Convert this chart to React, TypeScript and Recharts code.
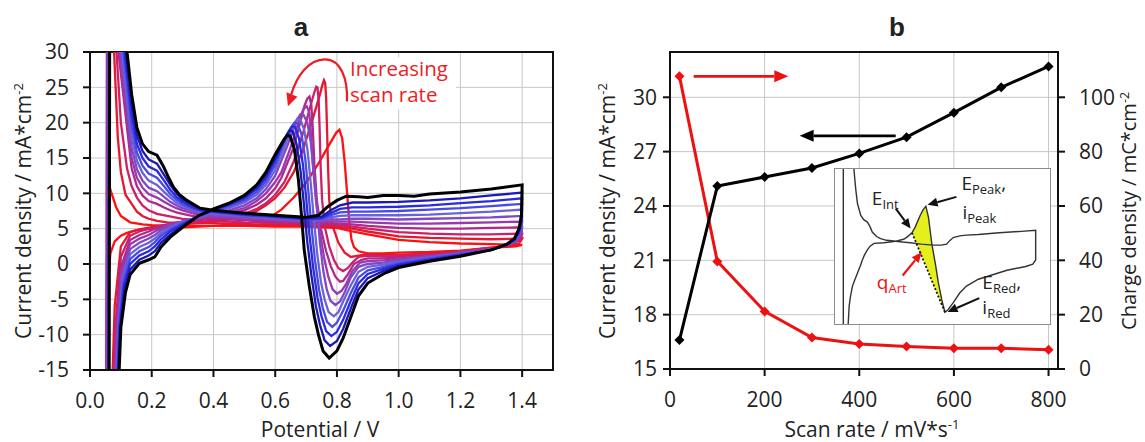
import React from 'react';
import {
  LineChart,
  ComposedChart,
  Line,
  Area,
  XAxis,
  YAxis,
  CartesianGrid,
  ReferenceArea,
  ReferenceLine,
  ReferenceDot,
} from 'recharts';

type Pt = [number, number];

// ---- panel a: voltammograms, slowest scan (red) -> fastest scan (black) ----
const cv01: Pt[] = [
  [0.053, -20], [0.056, 5], [0.058, 11.6], [0.07, 10.0], [0.085, 8.0], [0.1, 6.8], [0.13, 5.9], [0.17, 5.6],
  [0.2, 5.5], [0.3, 5.4], [0.4, 5.4], [0.5, 5.4], [0.6, 5.3], [0.7, 5.3], [0.75, 5.2], [0.8, 5.1], [0.85, 4.6],
  [0.9, 4.2], [1.0, 3.4], [1.1, 3.1], [1.2, 2.9], [1.3, 2.8], [1.4, 2.7],
  [1.38, 2.5], [1.3, 2.3], [1.2, 1.9], [1.1, 1.7], [1.0, 1.6], [0.95, 1.5], [0.9, 1.5], [0.87, 1.8], [0.855, 2.4],
  [0.847, 3.5], [0.84, 6.0], [0.833, 10.0], [0.825, 14.5], [0.817, 17.8], [0.808, 19.0], [0.798, 18.6], [0.77, 16.5],
  [0.74, 14.2], [0.7, 11.5], [0.66, 9.4], [0.62, 7.7], [0.58, 6.5], [0.54, 6.0], [0.5, 5.7], [0.4, 5.4], [0.3, 5.2],
  [0.2, 5.0], [0.15, 4.8], [0.12, 4.4], [0.1, 4.0], [0.08, 3.2], [0.066, 1.5], [0.058, -3.0], [0.055, -20],
];
const cv02: Pt[] = [
  [0.053, -20], [0.055, 40], [0.072, 40], [0.078, 30], [0.09, 18], [0.1, 13], [0.115, 9.8], [0.135, 8.5],
  [0.152, 7.4], [0.17, 6.8], [0.19, 6.4], [0.217, 6.1], [0.25, 5.9], [0.3, 5.8], [0.4, 5.8], [0.5, 5.6], [0.6, 5.5],
  [0.7, 5.5], [0.75, 5.4], [0.8, 5.3], [0.85, 5.0], [0.9, 4.6], [1.0, 3.9], [1.1, 3.7], [1.2, 3.6], [1.3, 3.5], [1.4, 3.6],
  [1.39, 2.9], [1.36, 2.6], [1.3, 2.3], [1.2, 1.8], [1.1, 1.5], [1.0, 1.3], [0.95, 1.3], [0.9, 1.4], [0.87, 1.2],
  [0.845, 1.0], [0.825, 1.6], [0.805, 3.0], [0.785, 5.5], [0.775, 9.0], [0.771, 14.0], [0.768, 19.0], [0.765, 23.5],
  [0.762, 25.6], [0.758, 26.0], [0.752, 25.2], [0.745, 24.0], [0.72, 20.3], [0.69, 16.2], [0.66, 13.0], [0.63, 10.8],
  [0.6, 9.3], [0.57, 8.3], [0.54, 7.5], [0.5, 6.8], [0.45, 6.3], [0.4, 6.0], [0.35, 5.8], [0.3, 5.6], [0.25, 5.4],
  [0.2, 5.2], [0.16, 4.9], [0.13, 4.5], [0.1, 2.5], [0.08, -6.0], [0.07, -20],
];
const cv03: Pt[] = [
  [0.054, -20], [0.056, 40], [0.08, 40], [0.086, 30], [0.1, 20], [0.12, 13.5], [0.135, 11.0], [0.152, 9.4],
  [0.17, 8.3], [0.19, 7.6], [0.217, 7.1], [0.25, 6.8], [0.3, 6.4], [0.36, 6.2], [0.4, 6.1], [0.5, 5.9], [0.6, 5.8],
  [0.7, 5.7], [0.75, 5.6], [0.8, 5.5], [0.85, 5.3], [0.9, 5.0], [1.0, 4.5], [1.1, 4.3], [1.2, 4.2], [1.3, 4.2], [1.4, 4.3],
  [1.395, 3.4], [1.37, 2.9], [1.35, 2.7], [1.3, 2.2], [1.2, 1.7], [1.1, 1.3], [1.0, 1.1], [0.95, 1.1], [0.9, 1.2],
  [0.87, 1.0], [0.85, 0.2], [0.835, -0.6], [0.82, -1.0], [0.805, -0.6], [0.79, 0.6], [0.775, 2.5], [0.762, 5.0],
  [0.752, 9.0], [0.747, 14.0], [0.744, 19.0], [0.741, 23.0], [0.737, 25.0], [0.733, 25.1], [0.726, 24.2], [0.715, 22.5],
  [0.69, 18.5], [0.66, 14.5], [0.63, 11.6], [0.6, 9.8], [0.57, 8.6], [0.54, 7.8], [0.5, 7.1], [0.45, 6.6], [0.4, 6.3],
  [0.35, 6.0], [0.3, 5.8], [0.26, 5.6], [0.23, 5.4], [0.2, 5.1], [0.16, 4.6], [0.13, 4.0], [0.1, 1.0], [0.084, -8.0],
  [0.074, -20],
];
const cv04: Pt[] = [
  [0.055, -20], [0.057, 40], [0.086, 40], [0.092, 30], [0.135, 13.5], [0.152, 11.0], [0.17, 9.7], [0.19, 8.9],
  [0.217, 8.5], [0.24, 8.0], [0.26, 7.6], [0.28, 7.3], [0.3, 7.1], [0.33, 6.8], [0.36, 6.6], [0.4, 6.4], [0.5, 6.2],
  [0.6, 6.0], [0.7, 5.9], [0.75, 5.8], [0.8, 5.7], [0.85, 5.6], [0.9, 5.4], [1.0, 5.1], [1.1, 5.0], [1.2, 5.0],
  [1.3, 5.1], [1.4, 5.2],
  [1.396, 3.9], [1.38, 3.2], [1.36, 2.8], [1.3, 2.1], [1.2, 1.6], [1.1, 1.2], [1.0, 0.9], [0.95, 0.8], [0.9, 0.8],
  [0.88, 0.6], [0.855, 0.0], [0.835, -1.5], [0.82, -2.4], [0.81, -2.5], [0.795, -1.8], [0.78, -0.3], [0.765, 1.8],
  [0.748, 5.0], [0.735, 9.0], [0.727, 14.0], [0.722, 19.0], [0.717, 22.5], [0.711, 23.7], [0.704, 23.4], [0.695, 22.4],
  [0.66, 16.5], [0.62, 12.2], [0.6, 10.7], [0.57, 9.3], [0.54, 8.4], [0.5, 7.6], [0.45, 7.0], [0.4, 6.6], [0.35, 6.3],
  [0.3, 6.0], [0.26, 5.7], [0.23, 5.4], [0.21, 5.0], [0.19, 4.6], [0.16, 4.1], [0.13, 3.4], [0.1, -0.5], [0.086, -9.0],
  [0.076, -20],
];
const cv05: Pt[] = [
  [0.056, -20], [0.058, 40], [0.09, 40], [0.096, 30], [0.135, 15.0], [0.152, 12.2], [0.17, 10.8], [0.19, 9.9],
  [0.217, 9.4], [0.24, 8.8], [0.26, 8.3], [0.28, 7.9], [0.3, 7.6], [0.33, 7.2], [0.36, 6.9], [0.4, 6.7], [0.5, 6.4],
  [0.6, 6.2], [0.7, 6.0], [0.75, 6.0], [0.8, 6.0], [0.85, 6.0], [0.9, 5.9], [1.0, 5.7], [1.1, 5.7], [1.2, 5.8],
  [1.3, 5.9], [1.4, 6.0],
  [1.397, 4.4], [1.385, 3.5], [1.37, 3.0], [1.35, 2.7], [1.3, 2.1], [1.2, 1.6], [1.1, 1.1], [1.0, 0.7], [0.95, 0.5],
  [0.9, 0.4], [0.875, 0.2], [0.85, -1.0], [0.83, -2.8], [0.815, -3.8], [0.8, -4.2], [0.786, -3.6], [0.772, -1.8],
  [0.758, 1.0], [0.745, 4.5], [0.732, 9.0], [0.722, 14.0], [0.716, 18.5], [0.71, 21.5], [0.702, 22.3], [0.693, 22.0],
  [0.682, 21.0], [0.65, 16.5], [0.62, 13.0], [0.6, 11.6], [0.57, 10.0], [0.54, 8.9], [0.5, 7.9], [0.45, 7.3],
  [0.4, 6.9], [0.35, 6.4], [0.3, 6.0], [0.26, 5.6], [0.23, 5.1], [0.21, 4.6], [0.19, 4.1], [0.16, 3.6], [0.13, 2.8],
  [0.102, -1.0], [0.088, -9.0], [0.078, -20],
];
const cv06: Pt[] = [
  [0.057, -20], [0.059, 40], [0.094, 40], [0.1, 30], [0.135, 16.5], [0.152, 13.4], [0.17, 11.8], [0.19, 10.8],
  [0.217, 10.3], [0.24, 9.5], [0.26, 8.8], [0.28, 8.3], [0.3, 7.9], [0.33, 7.5], [0.36, 7.1], [0.4, 6.9], [0.5, 6.6],
  [0.6, 6.3], [0.7, 6.1], [0.75, 6.1], [0.78, 6.3], [0.81, 6.3], [0.85, 6.4], [0.9, 6.4], [1.0, 6.3], [1.1, 6.4],
  [1.2, 6.5], [1.3, 6.6], [1.4, 6.8],
  [1.398, 4.8], [1.39, 3.9], [1.375, 3.1], [1.35, 2.7], [1.3, 2.1], [1.2, 1.5], [1.1, 1.0], [1.0, 0.5], [0.95, 0.2],
  [0.9, 0.0], [0.87, -0.4], [0.845, -1.9], [0.825, -4.0], [0.81, -5.3], [0.795, -5.8], [0.779, -5.2], [0.767, -3.6],
  [0.756, -1.0], [0.745, 3.0], [0.735, 8.0], [0.725, 13.0], [0.715, 17.3], [0.704, 20.0], [0.692, 21.1], [0.682, 21.2],
  [0.67, 20.4], [0.64, 16.8], [0.6, 12.5], [0.57, 10.6], [0.54, 9.3], [0.5, 8.3], [0.45, 7.6], [0.4, 7.1], [0.35, 6.5],
  [0.3, 6.0], [0.26, 5.4], [0.23, 4.8], [0.21, 4.1], [0.19, 3.6], [0.16, 3.0], [0.13, 2.1], [0.104, -1.5], [0.09, -9.0],
  [0.08, -20],
];
const cv07: Pt[] = [
  [0.058, -20], [0.06, 40], [0.098, 40], [0.104, 30], [0.135, 18], [0.152, 14.6], [0.17, 12.9], [0.19, 11.8],
  [0.217, 11.2], [0.24, 10.2], [0.26, 9.4], [0.28, 8.7], [0.3, 8.2], [0.33, 7.7], [0.36, 7.3], [0.4, 7.1], [0.5, 6.8],
  [0.6, 6.5], [0.7, 6.2], [0.75, 6.3], [0.78, 6.6], [0.81, 6.8], [0.85, 6.9], [0.9, 6.9], [1.0, 6.9], [1.1, 7.0],
  [1.2, 7.2], [1.3, 7.4], [1.4, 7.7],
  [1.398, 5.2], [1.39, 4.1], [1.375, 3.2], [1.35, 2.7], [1.3, 2.0], [1.2, 1.4], [1.1, 0.9], [1.0, 0.3], [0.95, -0.1],
  [0.9, -0.4], [0.87, -1.1], [0.845, -3.0], [0.82, -5.3], [0.805, -6.8], [0.79, -7.4], [0.773, -6.8], [0.76, -5.0],
  [0.748, -2.5], [0.736, 1.5], [0.725, 6.5], [0.715, 11.5], [0.705, 16.0], [0.694, 19.0], [0.682, 20.4], [0.672, 20.5],
  [0.66, 19.8], [0.63, 16.6], [0.6, 13.3], [0.57, 11.2], [0.54, 9.8], [0.5, 8.7], [0.45, 7.9], [0.4, 7.3], [0.35, 6.6],
  [0.3, 5.9], [0.26, 5.2], [0.23, 4.4], [0.21, 3.6], [0.19, 3.0], [0.16, 2.4], [0.13, 1.4], [0.106, -2.0], [0.092, -9.0],
  [0.082, -20],
];
const cv08: Pt[] = [
  [0.059, -20], [0.061, 40], [0.102, 40], [0.108, 30], [0.135, 19.5], [0.152, 15.8], [0.17, 13.9], [0.19, 12.8],
  [0.217, 12.2], [0.24, 11.0], [0.26, 9.9], [0.28, 9.1], [0.3, 8.5], [0.33, 7.9], [0.36, 7.5], [0.4, 7.3], [0.5, 6.9],
  [0.6, 6.6], [0.7, 6.3], [0.75, 6.4], [0.78, 6.9], [0.81, 7.3], [0.85, 7.4], [0.9, 7.4], [1.0, 7.5], [1.1, 7.7],
  [1.2, 7.9], [1.3, 8.2], [1.4, 8.5],
  [1.398, 5.6], [1.39, 4.3], [1.375, 3.3], [1.35, 2.7], [1.3, 2.0], [1.2, 1.4], [1.1, 0.8], [1.0, 0.1], [0.95, -0.4],
  [0.9, -0.9], [0.87, -1.9], [0.845, -4.1], [0.82, -6.6], [0.8, -8.3], [0.785, -8.9], [0.768, -8.2], [0.754, -6.2],
  [0.742, -3.6], [0.729, 0.5], [0.717, 5.5], [0.707, 10.5], [0.697, 15.0], [0.685, 18.4], [0.672, 19.9], [0.663, 20.0],
  [0.651, 19.3], [0.625, 16.8], [0.6, 14.0], [0.57, 11.7], [0.54, 10.2], [0.5, 9.0], [0.45, 8.2], [0.4, 7.5], [0.35, 6.7],
  [0.3, 5.8], [0.26, 4.9], [0.23, 4.0], [0.21, 3.1], [0.19, 2.4], [0.16, 1.8], [0.13, 0.7], [0.108, -2.5], [0.094, -9.0],
  [0.084, -20],
];
const cv09: Pt[] = [
  [0.06, -20], [0.062, 40], [0.106, 40], [0.112, 30], [0.135, 21], [0.152, 17.0], [0.17, 15.0], [0.19, 13.8],
  [0.217, 13.2], [0.24, 11.8], [0.26, 10.5], [0.28, 9.5], [0.3, 8.8], [0.33, 8.1], [0.36, 7.6], [0.4, 7.4], [0.5, 7.0],
  [0.6, 6.7], [0.7, 6.4], [0.75, 6.5], [0.78, 7.2], [0.81, 7.8], [0.85, 8.0], [0.9, 8.0], [1.0, 8.1], [1.1, 8.3],
  [1.2, 8.6], [1.3, 8.9], [1.4, 9.3],
  [1.398, 6.0], [1.39, 4.5], [1.375, 3.4], [1.35, 2.7], [1.3, 2.0], [1.2, 1.3], [1.1, 0.6], [1.0, -0.1], [0.95, -0.7],
  [0.9, -1.4], [0.87, -2.7], [0.845, -5.2], [0.82, -7.9], [0.8, -9.6], [0.782, -10.2], [0.765, -9.5], [0.75, -7.4],
  [0.737, -4.8], [0.723, -0.5], [0.71, 4.5], [0.7, 9.5], [0.69, 14.0], [0.677, 17.8], [0.664, 19.4], [0.656, 19.5],
  [0.644, 18.8], [0.62, 16.7], [0.6, 14.6], [0.57, 12.2], [0.54, 10.6], [0.5, 9.3], [0.45, 8.4], [0.4, 7.6], [0.35, 6.8],
  [0.3, 5.6], [0.26, 4.6], [0.23, 3.5], [0.21, 2.5], [0.19, 1.8], [0.16, 1.2], [0.13, 0.0], [0.11, -3.0], [0.096, -9.0],
  [0.086, -20],
];
const cv10: Pt[] = [
  [0.061, -20], [0.063, 40], [0.11, 40], [0.116, 30], [0.135, 22.5], [0.152, 18.2], [0.17, 16], [0.19, 14.8],
  [0.217, 14.2], [0.24, 12.6], [0.26, 11.2], [0.28, 10.0], [0.3, 9.1], [0.33, 8.4], [0.36, 7.8], [0.4, 7.5], [0.5, 7.1],
  [0.6, 6.8], [0.7, 6.5], [0.75, 6.7], [0.78, 7.6], [0.81, 8.3], [0.85, 8.7], [0.9, 8.7], [1.0, 8.8], [1.1, 9.0],
  [1.2, 9.3], [1.3, 9.7], [1.4, 10.1],
  [1.398, 6.5], [1.39, 4.8], [1.375, 3.5], [1.35, 2.7], [1.3, 2.0], [1.2, 1.2], [1.1, 0.5], [1.0, -0.3], [0.95, -1.0],
  [0.9, -2.0], [0.87, -3.6], [0.845, -6.3], [0.82, -9.2], [0.8, -10.9], [0.778, -11.6], [0.76, -10.8], [0.745, -8.6],
  [0.732, -6.0], [0.717, -1.5], [0.703, 3.5], [0.693, 8.5], [0.682, 13.2], [0.669, 17.0], [0.656, 18.8], [0.648, 18.9],
  [0.636, 18.2], [0.6, 15.0], [0.57, 12.6], [0.54, 10.9], [0.5, 9.5], [0.45, 8.5], [0.4, 7.7], [0.35, 6.8], [0.3, 5.4],
  [0.26, 4.2], [0.23, 3.0], [0.21, 1.8], [0.19, 1.2], [0.16, 0.6], [0.13, -0.8], [0.112, -3.5], [0.098, -9.0],
  [0.088, -20],
];
const cv11: Pt[] = [
  [0.062, -20], [0.064, 40], [0.115, 40], [0.12, 30], [0.135, 24], [0.152, 19.3], [0.17, 17], [0.19, 15.9],
  [0.217, 15.4], [0.238, 13.8], [0.255, 12.2], [0.27, 10.9], [0.29, 9.8], [0.314, 9.0], [0.357, 7.9], [0.4, 7.6],
  [0.5, 7.2], [0.6, 6.9], [0.7, 6.6], [0.74, 6.9], [0.77, 8.1], [0.8, 9.0], [0.83, 9.6], [0.87, 9.5], [0.9, 9.4],
  [0.95, 9.7], [1.0, 9.7], [1.05, 9.6], [1.1, 9.9], [1.2, 10.2], [1.3, 10.6], [1.4, 11.2],
  [1.398, 7.0], [1.39, 5.0], [1.375, 3.6], [1.35, 2.8], [1.3, 2.0], [1.2, 1.1], [1.1, 0.4], [1.0, -0.5], [0.95, -1.4],
  [0.9, -2.7], [0.87, -4.5], [0.845, -7.5], [0.82, -10.5], [0.8, -12.3], [0.775, -13.3], [0.755, -12.3], [0.74, -10.0],
  [0.727, -7.5], [0.71, -3.0], [0.694, 2.0], [0.685, 7.0], [0.675, 12.0], [0.662, 16.3], [0.648, 18.1], [0.64, 18.2],
  [0.628, 17.6], [0.6, 15.5], [0.57, 13.0], [0.54, 11.2], [0.5, 9.7], [0.45, 8.6], [0.4, 7.8], [0.35, 6.8], [0.3, 5.2],
  [0.26, 3.8], [0.23, 2.4], [0.21, 1.0], [0.19, 0.6], [0.16, 0.1], [0.13, -1.5], [0.115, -4.0], [0.1, -9.0], [0.09, -20],
];

const cvCurves = [cv01, cv02, cv03, cv04, cv05, cv06, cv07, cv08, cv09, cv10, cv11];
const cvColors = [
  '#ff1010', '#e4182e', '#cc2068', '#b0288c', '#9a38b0', '#8048c4',
  '#6a62d8', '#4a4ae2', '#2a2ae0', '#1a1ab8', '#000000',
];
const potentialTicks = [0, 0.2, 0.4, 0.6, 0.8, 1.0, 1.2, 1.4];
const currentTicks = [-15, -10, -5, 0, 5, 10, 15, 20, 25, 30];

// ---- panel b ----
const scanRates = [20, 100, 200, 300, 400, 500, 600, 700, 800];
const peakCurrent = [16.6, 25.1, 25.6, 26.1, 26.9, 27.8, 29.15, 30.55, 31.7];
const artCharge = [107.7, 39.6, 21.2, 11.6, 9.2, 8.3, 7.6, 7.6, 7.1];
const scanTicks = [0, 200, 400, 600, 800];
const peakTicks = [15, 18, 21, 24, 27, 30];
const chargeTicks = [0, 20, 40, 60, 80, 100];

// ---- inset sketch ----
const insetCv: Pt[] = [
  [0.058, -20], [0.058, 40], [0.13, 40], [0.133, 29.4], [0.145, 24], [0.157, 19.9], [0.18, 16.5], [0.2, 15.3],
  [0.226, 14.6], [0.245, 13.2], [0.26, 11.7], [0.29, 10.4], [0.318, 9.8], [0.36, 9.3], [0.41, 9.1], [0.47, 8.8],
  [0.525, 8.6], [0.6, 8.2], [0.686, 7.9], [0.74, 7.9], [0.779, 8.2], [0.8, 9.2], [0.825, 10.1], [0.87, 10.6],
  [0.917, 10.8], [1.0, 11.0], [1.147, 11.5], [1.3, 11.9], [1.4, 12.2],
  [1.4, 3.6], [1.38, 2.4], [1.33, 1.7], [1.2, 0.6], [1.1, -0.7], [1.0, -2.0], [0.917, -4.0], [0.87, -6.0],
  [0.825, -8.8], [0.79, -10.8], [0.767, -11.6], [0.745, -8.0], [0.721, -3.0], [0.7, 2.5], [0.675, 8.4], [0.652, 16.0],
  [0.634, 19.2], [0.615, 18.2], [0.594, 16.5], [0.56, 13.2], [0.537, 11.5], [0.505, 10.3], [0.479, 9.6], [0.41, 8.9],
  [0.34, 8.6], [0.272, 8.4], [0.245, 7.6], [0.226, 6.5], [0.205, 5.0], [0.191, 3.6], [0.175, 1.7], [0.157, -0.2],
  [0.135, -2.5], [0.122, -4.0], [0.108, -7.0], [0.099, -9.7], [0.092, -15], [0.09, -20],
];
const fillX = [0.537, 0.56, 0.594, 0.615, 0.634, 0.652, 0.675, 0.7, 0.721, 0.745, 0.767];
const fillLow = [11.5, 9.2, 5.8, 3.7, 1.8, 0.0, -2.4, -4.9, -7.0, -9.4, -11.6];
const fillHigh = [11.5, 13.2, 16.5, 18.2, 19.2, 16.0, 8.4, 2.5, -3.0, -8.0, -11.6];
const chord: Pt[] = [[0.537, 11.5], [0.767, -11.6]];

const FONT = '"Open Sans", "Noto Sans", sans-serif';
const TICK = { fontSize: 21, fill: '#222', fontFamily: FONT };
const GRID = '#c6c6c6';

const toXY = (pts: Pt[]) => pts.map(([x, y]) => ({ x, y }));

const arrow = (color: string, w: number, head = 14, half = 6) => (p: any) => {
  const { x1, y1, x2, y2 } = p;
  const dx = x2 - x1;
  const dy = y2 - y1;
  const len = Math.hypot(dx, dy) || 1;
  const ux = dx / len;
  const uy = dy / len;
  const bx = x2 - ux * head;
  const by = y2 - uy * head;
  return (
    <g>
      <line x1={x1} y1={y1} x2={bx} y2={by} stroke={color} strokeWidth={w} />
      <polygon
        points={`${x2},${y2} ${bx - uy * half},${by + ux * half} ${bx + uy * half},${by - ux * half}`}
        fill={color}
      />
    </g>
  );
};

const note = (main: string, sub: string, tail = '', color = '#222') => (p: any) => (
  <text x={p.cx} y={p.cy} fill={color} fontSize={19} fontFamily={FONT}>
    {main}
    <tspan fontSize={13} dy={4}>{sub}</tspan>
    {tail ? <tspan dy={-4}>{tail}</tspan> : null}
  </text>
);

const scanRateNote = (p: any) => {
  const red = '#ee1c24';
  return (
    <g transform={`translate(${p.cx},${p.cy})`}>
      <rect x={11} y={-30} width={108} height={52} fill="#fff" />
      <path d="M 10 14 C 11 -8, 4 -28, -12 -28 C -28 -28, -40 -12, -46 8" fill="none" stroke={red} strokeWidth={2.2} />
      <polygon points="-49,19 -39.5,9.5 -50.5,5" fill={red} />
      <text x={13} y={-11} fill={red} fontSize={20.5} fontFamily={FONT}>Increasing</text>
      <text x={13} y={15} fill={red} fontSize={20.5} fontFamily={FONT}>scan rate</text>
    </g>
  );
};

const diamond = (color: string) => (p: any) => {
  const { cx, cy, index } = p;
  return (
    <path
      key={`d-${color}-${index}`}
      d={`M${cx},${cy - 5} L${cx + 5},${cy} L${cx},${cy + 5} L${cx - 5},${cy} Z`}
      fill={color}
    />
  );
};

const Title = ({ x, y, rotate, size = 21, bold, children }: any) => (
  <div
    style={{
      position: 'absolute',
      left: x,
      top: y,
      transform: `translate(-50%, -50%)${rotate ? ' rotate(-90deg)' : ''}`,
      whiteSpace: 'nowrap',
      fontFamily: bold ? '"Liberation Sans", Arial, sans-serif' : FONT,
      fontWeight: bold ? 700 : 400,
      fontSize: size,
      color: '#222',
      lineHeight: 1,
    }}
  >
    {children}
  </div>
);

const sup = { fontSize: '0.62em', verticalAlign: '0.6em' } as const;

export default function App() {
  const rateData = scanRates.map((r, i) => ({ rate: r, current: peakCurrent[i], charge: artCharge[i] }));
  const fillData = fillX.map((x, i) => ({ x, band: [fillLow[i], fillHigh[i]] }));

  return (
    <div style={{ position: 'absolute', left: 0, top: 0, width: 1145, height: 442, background: '#fff', overflow: 'hidden' }}>
      {/* panel a */}
      <div style={{ position: 'absolute', left: 0, top: 0 }}>
        <LineChart width={570} height={442} margin={{ top: 52, right: 17, bottom: 32, left: 30 }}>
          <CartesianGrid stroke={GRID} strokeWidth={1} />
          <XAxis
            type="number"
            dataKey="x"
            domain={[0, 1.5]}
            ticks={potentialTicks}
            interval={0}
            allowDataOverflow
            tickFormatter={(v: number) => v.toFixed(1)}
            tick={TICK}
            height={40}
            tickSize={7}
            tickMargin={16}
            stroke="#111"
            strokeWidth={2}
          />
          <YAxis
            type="number"
            domain={[-15, 30]}
            ticks={currentTicks}
            interval={0}
            allowDataOverflow
            tick={TICK}
            width={60}
            tickSize={7}
            tickMargin={14}
            stroke="#111"
            strokeWidth={2}
          />
          {cvCurves.map((c, i) => (
            <Line
              key={i}
              data={toXY(c)}
              dataKey="y"
              type="linear"
              stroke={cvColors[i]}
              strokeWidth={i === cvCurves.length - 1 ? 3 : 2.3}
              dot={false}
              isAnimationActive={false}
            />
          ))}
          <ReferenceArea x1={0} x2={1.5} y1={-15} y2={30} fill="none" stroke="#111" strokeWidth={2} />
          <ReferenceDot x={0.8} y={25} r={1} isFront shape={scanRateNote} />
        </LineChart>
      </div>

      {/* panel b */}
      <div style={{ position: 'absolute', left: 570, top: 0 }}>
        <LineChart width={575} height={442} data={rateData} margin={{ top: 52, right: 27, bottom: 33, left: 40 }}>
          <CartesianGrid stroke={GRID} strokeWidth={1} yAxisId="left" />
          <XAxis
            type="number"
            dataKey="rate"
            domain={[0, 820]}
            ticks={scanTicks}
            interval={0}
            tick={TICK}
            height={40}
            tickSize={7}
            tickMargin={16}
            stroke="#111"
            strokeWidth={2}
          />
          <YAxis
            yAxisId="left"
            type="number"
            domain={[15, 32.5]}
            ticks={peakTicks}
            interval={0}
            tick={TICK}
            width={60}
            tickSize={7}
            tickMargin={6}
            stroke="#111"
            strokeWidth={2}
          />
          <YAxis
            yAxisId="right"
            orientation="right"
            type="number"
            domain={[0, 116.67]}
            ticks={chargeTicks}
            interval={0}
            tick={TICK}
            width={60}
            tickSize={7}
            tickMargin={14}
            stroke="#111"
            strokeWidth={2}
          />
          <ReferenceArea yAxisId="left" x1={0} x2={820} y1={15} y2={32.5} fill="none" stroke="#111" strokeWidth={2} />
          <Line
            yAxisId="right"
            dataKey="charge"
            type="linear"
            stroke="#ee1111"
            strokeWidth={3}
            dot={diamond('#ee1111')}
            isAnimationActive={false}
          />
          <Line
            yAxisId="left"
            dataKey="current"
            type="linear"
            stroke="#000"
            strokeWidth={3}
            dot={diamond('#000')}
            isAnimationActive={false}
          />
          <ReferenceLine
            yAxisId="right"
            segment={[{ x: 50, y: 107.7 }, { x: 250, y: 107.7 }]}
            shape={arrow('#ee1111', 2.6)}
          />
          <ReferenceLine
            yAxisId="left"
            segment={[{ x: 477, y: 27.87 }, { x: 274, y: 27.87 }]}
            shape={arrow('#000', 2.6)}
          />
        </LineChart>
      </div>

      {/* inset in panel b */}
      <div
        style={{
          position: 'absolute',
          left: 834,
          top: 168,
          width: 217,
          height: 157,
          boxSizing: 'border-box',
          border: '1px solid #8c8c8c',
          background: '#fff',
        }}
      >
        <ComposedChart width={215} height={155} data={fillData} margin={{ top: 0, right: 0, bottom: 0, left: 0 }}>
          <XAxis type="number" dataKey="x" domain={[0, 1.5]} hide allowDataOverflow />
          <YAxis type="number" domain={[-15, 30]} hide allowDataOverflow />
          <Area dataKey="band" type="linear" fill="#e6ef1e" fillOpacity={1} stroke="none" isAnimationActive={false} />
          <Line
            data={toXY(insetCv)}
            dataKey="y"
            type="linear"
            stroke="#333"
            strokeWidth={1.4}
            dot={false}
            isAnimationActive={false}
          />
          <Line
            data={toXY(chord)}
            dataKey="y"
            type="linear"
            stroke="#111"
            strokeWidth={1.8}
            strokeDasharray="2 2"
            dot={false}
            isAnimationActive={false}
          />
          <ReferenceLine segment={[{ x: 0.424, y: 18.5 }, { x: 0.528, y: 12.7 }]} shape={arrow('#111', 2, 10, 4.5)} />
          <ReferenceLine segment={[{ x: 0.847, y: 21.9 }, { x: 0.646, y: 19.6 }]} shape={arrow('#111', 2, 10, 4.5)} />
          <ReferenceLine segment={[{ x: 0.472, y: -0.9 }, { x: 0.604, y: 5.8 }]} shape={arrow('#ee1111', 2.2, 10, 4.5)} />
          <ReferenceLine segment={[{ x: 1.007, y: -7.5 }, { x: 0.785, y: -11.5 }]} shape={arrow('#111', 2, 10, 4.5)} />
          <ReferenceDot x={0.257} y={19.6} r={1} isFront shape={note('E', 'Int')} />
          <ReferenceDot x={0.882} y={23.9} r={1} isFront shape={note('E', 'Peak', ',')} />
          <ReferenceDot x={0.889} y={15.6} r={1} isFront shape={note('i', 'Peak')} />
          <ReferenceDot x={0.292} y={-4.9} r={1} isFront shape={note('q', 'Art', '', '#ee1111')} />
          <ReferenceDot x={1.028} y={-4.9} r={1} isFront shape={note('E', 'Red', ',')} />
          <ReferenceDot x={1.028} y={-12.1} r={1} isFront shape={note('i', 'Red')} />
        </ComposedChart>
      </div>

      {/* titles */}
      <Title x={301} y={27} size={26} bold>a</Title>
      <Title x={897} y={27} size={26} bold>b</Title>
      <Title x={23} y={211} rotate>
        Current density / mA*cm<span style={sup}>-2</span>
      </Title>
      <Title x={320} y={429}>Potential / V</Title>
      <Title x={607} y={211} rotate>
        Current density / mA*cm<span style={sup}>-2</span>
      </Title>
      <Title x={1129} y={211} size={20}>
        <span style={{ display: 'inline-block', transform: 'rotate(-90deg)' }}>
          Charge density / mC*cm<span style={sup}>-2</span>
        </span>
      </Title>
      <Title x={872} y={429}>
        Scan rate / mV*s<span style={sup}>-1</span>
      </Title>
    </div>
  );
}
